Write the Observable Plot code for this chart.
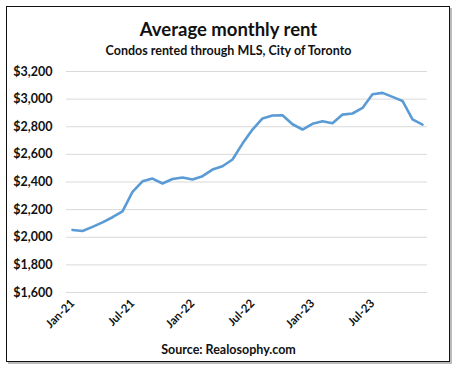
<!DOCTYPE html>
<html>
<head>
<meta charset="utf-8">
<script src="https://cdn.jsdelivr.net/npm/d3@7"></script>
<script src="https://cdn.jsdelivr.net/npm/@observablehq/plot@0.6"></script>
<style>
  html, body { margin: 0; padding: 0; background: #fff; }
  #wrap { position: relative; width: 457px; height: 368px; overflow: hidden; font-family: Lato, "Open Sans", sans-serif; }
  #frame { position: absolute; left: 6px; top: 6px; width: 442px; height: 354px; border: 1.5px solid #111; box-shadow: 2px 2px 0 #bbb; }
  .t { position: absolute; left: 0; width: 457px; text-align: center; font-weight: bold; color: #111; line-height: 1; }
  #title { top: 20px; font-size: 18.5px; }
  #subtitle { top: 45px; font-size: 12.5px; }
  #caption { top: 344px; font-size: 12.5px; }
  #chart { position: absolute; left: 0; top: 0; }
</style>
</head>
<body>
<div id="wrap">
  <div id="frame"></div>
  <div id="chart"></div>
  <div class="t" id="title">Average monthly rent</div>
  <div class="t" id="subtitle">Condos rented through MLS, City of Toronto</div>
  <div class="t" id="caption">Source: Realosophy.com</div>
</div>
<script>
const months = [
  "Jan-21","Feb-21","Mar-21","Apr-21","May-21","Jun-21","Jul-21","Aug-21","Sep-21","Oct-21","Nov-21","Dec-21",
  "Jan-22","Feb-22","Mar-22","Apr-22","May-22","Jun-22","Jul-22","Aug-22","Sep-22","Oct-22","Nov-22","Dec-22",
  "Jan-23","Feb-23","Mar-23","Apr-23","May-23","Jun-23","Jul-23","Aug-23","Sep-23","Oct-23","Nov-23","Dec-23"
];
const rent = [
  2053, 2045, 2075, 2108, 2145, 2188, 2328, 2405, 2425, 2389, 2422, 2432,
  2418, 2442, 2490, 2514, 2563, 2678, 2780, 2860, 2881, 2883, 2818, 2780,
  2821, 2840, 2825, 2888, 2896, 2936, 3035, 3045, 3016, 2987, 2854, 2816
];
const xTicks = ["Jan-21","Jul-21","Jan-22","Jul-22","Jan-23","Jul-23"];
const yTicks = [1600, 1800, 2000, 2200, 2400, 2600, 2800, 3000, 3200];

const data = months.map((m, i) => ({month: m, rent: rent[i]}));
const fmt = d3.format(",");

const chart = Plot.plot({
  width: 457,
  height: 368,
  marginTop: 71,
  marginBottom: 76,
  marginLeft: 66,
  marginRight: 30,
  style: {fontFamily: "Lato, 'Open Sans', sans-serif", background: "transparent", color: "#111"},
  x: {type: "point", domain: months, padding: 0.5, label: null},
  y: {domain: [1600, 3200], label: null},
  marks: [
    Plot.gridY(yTicks, {stroke: "#d9d9d9", strokeOpacity: 1, strokeWidth: 1}),
    Plot.axisY(yTicks, {tickSize: 0, tickPadding: 14, tickFormat: d => "$" + fmt(d), fontSize: 12.5, fontWeight: "bold", label: null}),
    Plot.axisX(xTicks, {tickSize: 0, tickPadding: 9, tickRotate: -45, fontSize: 11.5, fontWeight: "bold", label: null}),
    Plot.line(data, {x: "month", y: "rent", stroke: "#5b9bd5", strokeWidth: 2.6, strokeLinejoin: "round"})
  ]
});
document.getElementById("chart").appendChild(chart);
</script>
</body>
</html>
